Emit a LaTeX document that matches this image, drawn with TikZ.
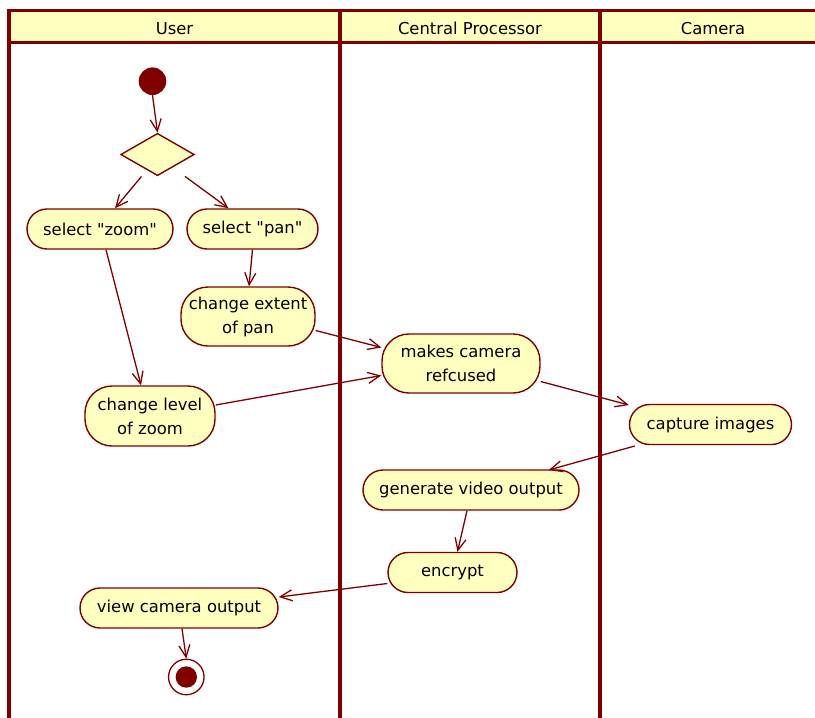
\documentclass[tikz,border=0pt]{standalone}
\usepackage{fontspec}
\setmainfont{DejaVu Sans}[Ligatures=TeXOff]
\usetikzlibrary{arrows.meta,shapes.geometric,shapes.misc,calc}
\definecolor{umlred}{HTML}{800000}
\definecolor{umlfill}{HTML}{FFFFC0}

\begin{document}
\begin{tikzpicture}[x=1pt,y=-1pt,
  every node/.style={font=\fontsize{16.4}{24}\selectfont, text=black},
  action/.style={draw=umlred, fill=umlfill, line width=1.4pt,
    rounded rectangle, rounded rectangle arc length=180,
    align=center, inner sep=0pt},
  action2/.style={draw=umlred, fill=umlfill, line width=1.4pt,
    rounded corners=27pt, align=center, inner sep=0pt},
  flow/.style={draw=umlred, line width=1.3pt,
    -{Straight Barb[length=12pt,width=11pt]}},
  lane/.style={draw=umlred, line width=4pt},
  lanetitle/.style={anchor=base},
  ]
  \useasboundingbox (0,0) rectangle (815,718);

  % swimlane header band and borders
  \fill[umlfill] (9.3,10.3) rectangle (815,42.7);
  \draw[lane, line width=3.6pt] (9.3,10.3) -- (815,10.3);
  \draw[lane, line width=3.4pt] (9.3,42.7) -- (815,42.7);
  \draw[lane] (9.3,8.5) -- (9.3,718);
  \draw[lane] (339.5,8.5) -- (339.5,718);
  \draw[lane] (600,8.5) -- (600,718);

  \node[lanetitle] (userlane) at (174.5,34.3) {User};
  \node[lanetitle] (cpulane) at (470,34.3) {Central Processor};
  \node[lanetitle] (camlane) at (713,34.3) {Camera};

  % initial node and decision
  \node[circle, fill=umlred, minimum size=27.6pt, inner sep=0pt] (start) at (152.5,81.2) {};
  \node[diamond, draw=umlred, fill=umlfill, line width=1.4pt, inner sep=0pt,
    minimum width=73.6pt, minimum height=42.4pt] (dec) at (157.5,154.5) {};

  % actions
  \node[action, minimum width=146pt, minimum height=40pt] (zoom) at (100,229) {select "zoom"};
  \node[action, minimum width=131pt, minimum height=40pt] (pan) at (252.5,229) {select "pan"};
  \node[action2, minimum width=134pt, minimum height=59pt] (extent) at (248,316.5) {change extent\\of pan};
  \node[action2, minimum width=158pt, minimum height=59pt] (makes) at (461,363.5) {makes camera\\refcused};
  \node[action2, minimum width=130pt, minimum height=60pt] (level) at (150,416) {change level\\of zoom};
  \node[action, minimum width=162pt, minimum height=40pt] (capture) at (710.5,424.5) {capture images};
  \node[action, minimum width=216pt, minimum height=40pt] (generate) at (471,490) {generate video output};
  \node[action, minimum width=129pt, minimum height=40pt] (encrypt) at (452.5,572.5) {encrypt};
  \node[action, minimum width=198pt, minimum height=40pt] (view) at (179,608) {view camera output};

  % final node
  \node[circle, draw=umlred, fill=white, line width=1.3pt, minimum size=35.5pt, inner sep=0pt] (end) at (186.3,677) {};
  \fill[umlred] (end.center) circle (10.7pt);

  % control flows
  \draw[flow] (start.south) -- (dec.north);
  \draw[flow] ($(dec.south)+(-16,0)$) -- ($(zoom.north)+(15,0)$);
  \draw[flow] ($(dec.south)+(27.5,0)$) -- ($(pan.north)+(-24,0)$);
  \draw[flow] ($(zoom.south)+(6,0)$) -- ($(level.north)+(-9,0)$);
  \draw[flow] (pan.south) -- ($(extent.north)+(1,0)$);
  \draw[flow] ($(extent.east)+(0,14)$) -- ($(makes.west)+(0,-16)$);
  \draw[flow] ($(level.east)+(0,-11)$) -- ($(makes.west)+(0,12)$);
  \draw[flow] ($(makes.east)+(0,18)$) -- ($(capture.west)+(0,-19.5)$);
  \draw[flow] ($(capture.west)+(6,21.5)$) -- ($(generate.east)+(-31,-20)$);
  \draw[flow] ($(generate.south)+(-4,0)$) -- ($(encrypt.north)+(5,0)$);
  \draw[flow] ($(encrypt.west)+(0,11)$) -- ($(view.east)+(0,-11)$);
  \draw[flow] ($(view.south)+(3,0)$) -- (end.north);
\end{tikzpicture}
\end{document}
